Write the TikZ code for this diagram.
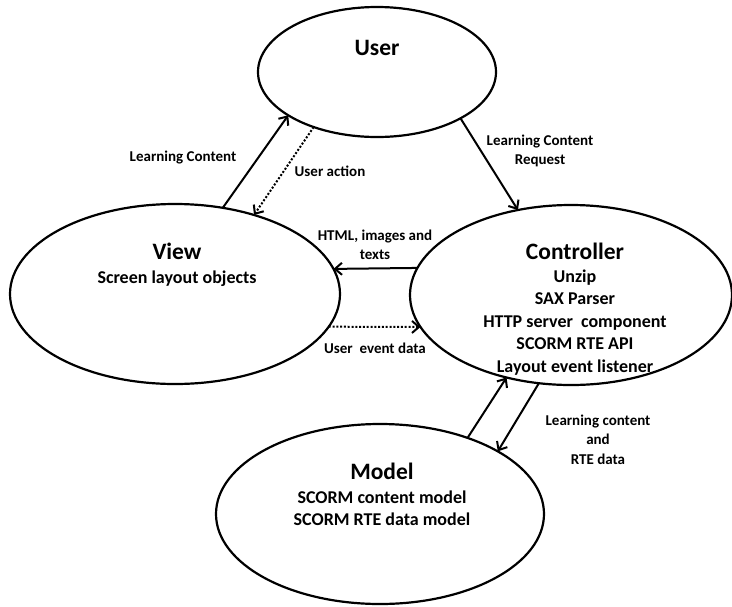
\documentclass[tikz,border=0pt]{standalone}
\usepackage{fontspec}
\setmainfont{Carlito}
\usetikzlibrary{shapes.geometric,arrows.meta}
\begin{document}
\begin{tikzpicture}[x=1pt,y=-1pt,
  box/.style={draw, ellipse, line width=2.2pt, inner sep=0pt, outer sep=0pt},
  ttl/.style={anchor=base, inner sep=0pt, font=\bfseries\fontsize{23.5}{28}\selectfont},
  itm/.style={anchor=base, inner sep=0pt, font=\bfseries\fontsize{18}{22}\selectfont},
  lbl/.style={anchor=base, inner sep=0pt, font=\bfseries\fontsize{15}{18}\selectfont},
  flow/.style={line width=2pt, -{Straight Barb[length=7pt,width=12pt,line width=2pt]}},
  event/.style={flow, dash pattern=on 2pt off 1.8pt}]
\useasboundingbox (0,0) rectangle (732,606);

% the four components
\node[box, minimum width=238pt, minimum height=130pt] (user)  at (377,72)  {};
\node[box, minimum width=330pt, minimum height=180pt] (view)  at (175,294) {};
\node[box, minimum width=322pt, minimum height=180pt] (ctrl)  at (571,295) {};
\node[box, minimum width=328pt, minimum height=180pt] (model) at (380,514) {};

% component texts
\node[ttl] (userT) at (377,55.5) {User};

\node[ttl] (viewT) at (177,259.5) {View};
\node[itm] (viewA) at (177,283.8) {Screen layout objects};

\node[ttl] (ctrlT) at (575,259.5) {Controller};
\node[itm] (ctrlA) at (575,282.8) {Unzip};
\node[itm] (ctrlB) at (575,304.8) {SAX Parser};
\node[itm] (ctrlC) at (575,327.8) {HTTP server~~component};
\node[itm] (ctrlD) at (575,349.8) {SCORM RTE API};
\node[itm] (ctrlE) at (575,372.8) {Layout event listener};

\node[ttl] (modelT) at (382,479.5) {Model};
\node[itm] (modelA) at (382,503.8) {SCORM content model};
\node[itm] (modelB) at (382,525.8) {SCORM RTE data model};

% connectors
\draw[flow]  (view.61)  -- (user.206);
\draw[event] (user.221) -- (view.45);
\draw[flow]  (user.331) -- (ctrl.122);
\draw[flow]  (ctrl.170) -- (view.9);
\draw[event] (view.348) -- (ctrl.192);
\draw[flow]  (model.41) -- (ctrl.232);
\draw[flow]  (ctrl.250) -- (model.28);

% connector labels
\node[lbl] (lc)   at (183,161.8) {Learning Content};
\node[lbl] (ua)   at (330,176.8) {User action};
\node[lbl] (lcr1) at (540,145.8) {Learning Content};
\node[lbl] (lcr2) at (540,164.8) {Request};
\node[lbl] (ht1)  at (375,240.8) {HTML, images and};
\node[lbl] (ht2)  at (375,259.8) {texts};
\node[lbl] (ued)  at (375,353.8) {User~~event data};
\node[lbl] (rte1) at (598,425.8) {Learning content};
\node[lbl] (rte2) at (598,444.8) {and};
\node[lbl] (rte3) at (598,464.8) {RTE data};
\end{tikzpicture}
\end{document}
